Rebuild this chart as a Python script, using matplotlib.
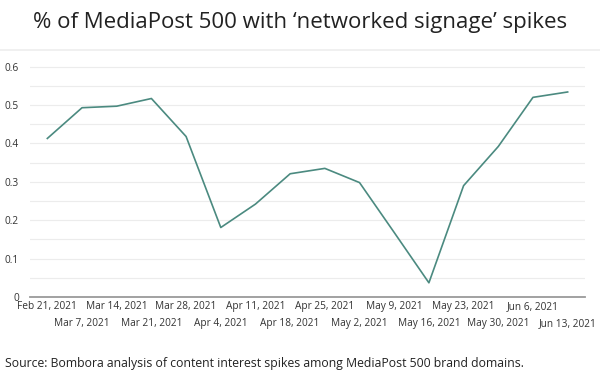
import matplotlib
matplotlib.use("Agg")
import matplotlib.pyplot as plt
from matplotlib.lines import Line2D

# weekly share of MediaPost 500 with 'networked signage' spikes
weeks = ["Feb 21, 2021", "Mar 7, 2021", "Mar 14, 2021", "Mar 21, 2021",
         "Mar 28, 2021", "Apr 4, 2021", "Apr 11, 2021", "Apr 18, 2021",
         "Apr 25, 2021", "May 2, 2021", "May 9, 2021", "May 16, 2021",
         "May 23, 2021", "May 30, 2021", "Jun 6, 2021", "Jun 13, 2021"]
share = [0.413, 0.493, 0.497, 0.517, 0.418, 0.181, 0.242, 0.321,
         0.335, 0.298, 0.168, 0.037, 0.290, 0.392, 0.520, 0.534]
yticks = [0, 0.1, 0.2, 0.3, 0.4, 0.5, 0.6]
ytick_labels = ["0", "0.1", "0.2", "0.3", "0.4", "0.5", "0.6"]

plt.rcParams["font.family"] = ["Open Sans", "DejaVu Sans"]
txt = "#333333"

fig = plt.figure(figsize=(6, 3.75), dpi=100)
ax = fig.add_axes([0.05, 0.208, 0.925, 0.645])

x = list(range(len(weeks)))
ax.plot(x, share, color="#4b8a80", lw=1.2, zorder=3)

ax.set_xlim(-0.5, len(weeks) - 0.5)
ax.set_ylim(0, 0.63)
ax.set_yticks(yticks)
ax.set_yticklabels(ytick_labels)
ax.set_yticks([0.05, 0.15, 0.25, 0.35, 0.45, 0.55], minor=True)
ax.grid(axis="y", which="both", color="#ececec", lw=0.8)
ax.set_axisbelow(True)

# alternate tick labels on two rows: even weeks major, odd weeks minor
ax.set_xticks(x[0::2])
ax.set_xticklabels(weeks[0::2])
ax.set_xticks(x[1::2], minor=True)
ax.set_xticklabels(weeks[1::2], minor=True)

ax.tick_params(axis="x", which="major", length=0, pad=3, labelsize=7.3, labelcolor=txt)
ax.tick_params(axis="x", which="minor", length=0, pad=15, labelsize=7.3, labelcolor=txt)
ax.tick_params(axis="y", which="both", length=0, pad=8, labelsize=7.3, labelcolor=txt)
for lab in ax.get_yticklabels():
    lab.set_horizontalalignment("right")

for s in ["top", "right", "left"]:
    ax.spines[s].set_visible(False)
ax.spines["bottom"].set_color("#9a9a9a")
ax.spines["bottom"].set_linewidth(1.3)

fig.text(0.5, 0.94, "% of MediaPost 500 with \u2018networked signage\u2019 spikes",
         ha="center", va="center", fontsize=16, color="#222222")
fig.add_artist(Line2D([0, 1], [0.867, 0.867], color="#eeeeee", lw=1.2))
fig.text(0.008, 0.03, "Source: Bombora analysis of content interest spikes among MediaPost 500 brand domains.",
         ha="left", va="center", fontsize=8.8, color="#222222")

fig.savefig("out.png", dpi=100)
